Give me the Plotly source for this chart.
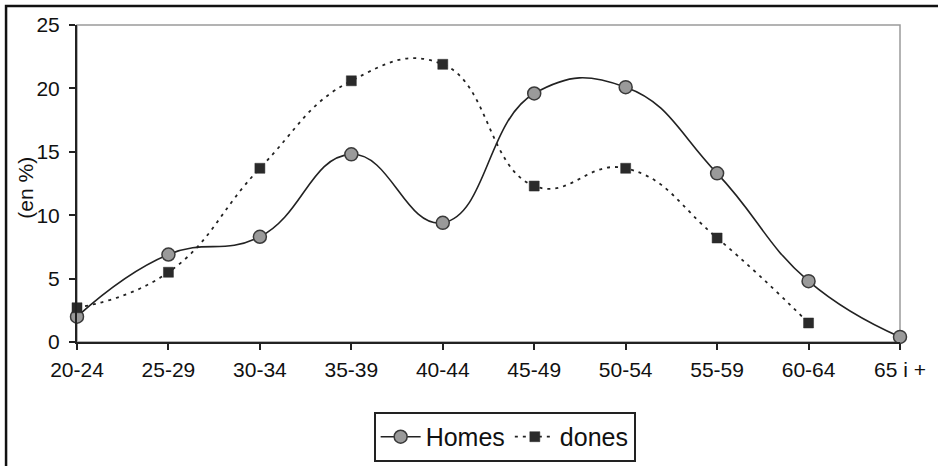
import plotly.graph_objects as go

# Age groups and share of each sex (in %)
age_groups = ["20-24", "25-29", "30-34", "35-39", "40-44",
              "45-49", "50-54", "55-59", "60-64", "65 i +"]
homes = [2.0, 6.9, 8.3, 14.8, 9.4, 19.6, 20.1, 13.3, 4.8, 0.4]
dones = [2.7, 5.5, 13.7, 20.6, 21.9, 12.3, 13.7, 8.2, 1.5, None]
y_ticks = [0, 5, 10, 15, 20, 25]

FONT = "Liberation Sans, Arial, sans-serif"
positions = list(range(len(age_groups)))

fig = go.Figure()

fig.add_trace(go.Scatter(
    x=positions, y=homes, name="Homes", mode="lines+markers",
    line=dict(color="#222222", width=1.6, shape="spline", smoothing=1.3),
    marker=dict(symbol="circle", size=13, color="#9a9a9a",
                line=dict(color="#3a3a3a", width=1.5)),
    cliponaxis=False,
))
fig.add_trace(go.Scatter(
    x=positions, y=dones, name="dones", mode="lines+markers",
    line=dict(color="#222222", width=1.8, shape="spline", smoothing=1.3,
              dash="3px,5px"),
    marker=dict(symbol="square", size=10, color="#2a2a2a",
                line=dict(color="#2a2a2a", width=0.5)),
    cliponaxis=False,
))

axis_font = dict(family=FONT, size=21, color="#111111")

fig.update_layout(
    width=938, height=466,
    margin=dict(l=77, r=26, t=25, b=124),
    paper_bgcolor="white", plot_bgcolor="white",
    font=dict(family=FONT, color="#111111"),
    xaxis=dict(
        range=[0, len(age_groups) - 1], tickvals=positions, ticktext=age_groups,
        ticks="outside", ticklen=6, tickwidth=1.5, tickcolor="#222222",
        showline=True, linecolor="#222222", linewidth=2,
        showgrid=False, zeroline=False, tickfont=axis_font,
        ticklabelstandoff=2,
    ),
    yaxis=dict(
        range=[0, 25], tickvals=y_ticks,
        ticks="outside", ticklen=6, tickwidth=1.5, tickcolor="#222222",
        showline=True, linecolor="#222222", linewidth=2,
        showgrid=False, zeroline=False, tickfont=axis_font,
        ticklabelstandoff=5,
    ),
    # inner halves of the crossing tick marks
    xaxis2=dict(
        overlaying="x", range=[0, len(age_groups) - 1], tickvals=positions,
        ticks="inside", ticklen=6, tickwidth=1.5, tickcolor="#222222",
        showticklabels=False, showline=False, showgrid=False, zeroline=False,
    ),
    yaxis2=dict(
        overlaying="y", range=[0, 25], tickvals=y_ticks,
        ticks="inside", ticklen=6, tickwidth=1.5, tickcolor="#222222",
        showticklabels=False, showline=False, showgrid=False, zeroline=False,
    ),
    legend=dict(
        orientation="h", xref="container", yref="container",
        x=0.538, xanchor="center", y=0.116, yanchor="top",
        font=dict(family=FONT, size=25, color="#111111"),
        bordercolor="#222222", borderwidth=2, bgcolor="white",
        itemwidth=40,
    ),
    showlegend=True,
)

# y-axis title
fig.add_annotation(text="(en %)", xref="paper", yref="paper",
                   x=-0.0623, y=0.486, xanchor="center", yanchor="middle",
                   textangle=-90, showarrow=False,
                   font=dict(family=FONT, size=21, color="#111111"))

# light frame on the top and right of the plotting area
fig.add_shape(type="rect", xref="paper", yref="paper", x0=0, x1=1, y0=0, y1=1,
              line=dict(color="#9a9a9a", width=1.5), layer="below")
# outer frame around the whole chart
fig.add_shape(type="rect", xref="paper", yref="paper",
              x0=-0.0862, x1=1.2, y0=-0.6, y1=1.06,
              line=dict(color="#111111", width=2.5), layer="below")

fig.write_html("out.html")
